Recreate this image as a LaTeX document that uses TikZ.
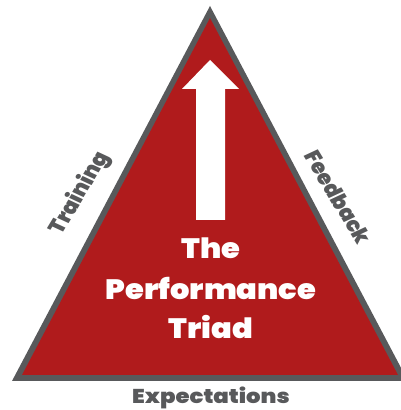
\documentclass[tikz,border=0pt]{standalone}
\usepackage{fontspec}
\setmainfont{Poppins}[BoldFont={Poppins Black}]
\definecolor{triadred}{HTML}{B01B1C}
\definecolor{triadgray}{HTML}{58595B}
\tikzset{
    sidelabel/.style = {text=triadgray, font=\fontsize{20}{20}\selectfont\bfseries, inner sep=0pt, xscale=1.14},
    titlelabel/.style = {text=white, font=\fontsize{28}{39}\selectfont\bfseries, align=center, inner sep=0pt, xscale=1.09}
}

\begin{document}
\begin{tikzpicture}[x=1pt, y=1pt]
        \useasboundingbox (0,0) rectangle (400,410);
        % triangle: gray rim, red body
        \fill[triadgray] (12,29) -- (210,404) -- (408,29) -- cycle;
        \fill[triadred] (22,35) -- (210,392) -- (398,35) -- cycle;
        % arrow pointing up
        \fill[white] (196,190) -- (196,321) -- (182,321) -- (210,350) -- (239,321) -- (225,321) -- (225,190) -- cycle;
        \node[titlelabel] (the) at (211,162) {The};
        \node[titlelabel] (performance) at (211,122) {Performance};
        \node[titlelabel] (triad) at (211,83) {Triad};
        \node[sidelabel, rotate=62] (training) at (80,217) {Training};
        \node[sidelabel, rotate=-62] (feedback) at (338,213) {Feedback};
        \node[sidelabel] (expectations) at (211,12) {Expectations};
    \end{tikzpicture}
\end{document}
